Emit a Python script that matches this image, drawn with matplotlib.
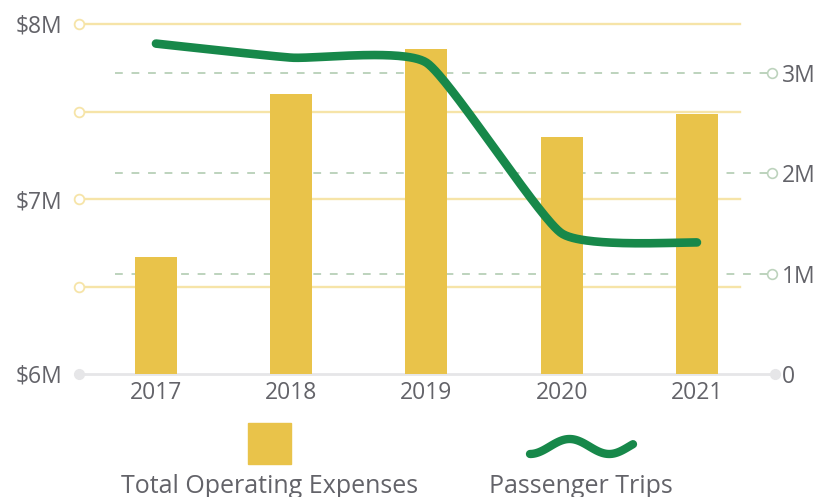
import numpy as np
import matplotlib.pyplot as plt
from matplotlib.patches import Rectangle
from matplotlib.lines import Line2D

# values
years = ['2017', '2018', '2019', '2020', '2021']
expenses = [6.67, 7.60, 7.855, 7.355, 7.485]      # $M, left axis
trips = [3.29, 3.15, 3.10, 1.40, 1.31]            # millions, right axis

left_ticks = [6, 7, 8]
left_labels = [r'\$6M', r'\$7M', r'\$8M']
left_grid = [6.5, 7, 7.5, 8]
right_ticks = [0, 1, 2, 3]
right_labels = ['0', '1M', '2M', '3M']

BAR = '#E9C34A'
GREEN = '#17884A'
YGRID = '#F6E4A8'
GGRID = '#BDD3BD'
BASE = '#E6E6E8'
TEXT = '#636369'

plt.rcParams['font.family'] = ['Open Sans', 'DejaVu Sans']
plt.rcParams['font.weight'] = 'medium'

W, H = 829, 497
fig = plt.figure(figsize=(W / 100, H / 100), dpi=100)
ax = fig.add_axes([79 / W, (H - 374) / H, (775 - 79) / W, (374 - 24) / H])
ax2 = ax.twinx()

x = np.arange(len(years))
ax.set_xlim(-0.569, 4.577)
ax.set_ylim(6, 8)
ax2.set_ylim(0, 3.485)

for a in (ax, ax2):
    for s in a.spines.values():
        s.set_visible(False)

# yellow gridlines for the left axis
for v in left_grid:
    ax.plot([-0.569, 4.318], [v, v], color=YGRID, lw=1.7, zorder=1, clip_on=False)
    ax.plot([-0.569], [v], marker='o', ms=7, mfc='white', mec=YGRID, mew=1.3,
            zorder=2, clip_on=False)

# dashed green gridlines for the right axis (drawn in ax so bars cover them)
for v in right_ticks[1:]:
    ax.plot([-0.303, 4.555], [v, v], color=GGRID, lw=1.4, ls=(0, (4, 4.5)),
            transform=ax2.transData, zorder=1, clip_on=False)
    ax.plot([4.555], [v], marker='o', ms=7, mfc='white', mec=GGRID, mew=1.2,
            transform=ax2.transData, zorder=2, clip_on=False)

# baseline
ax.plot([-0.569, 4.577], [6, 6], color=BASE, lw=2, zorder=1, clip_on=False)
ax.plot([-0.569, 4.577], [6, 6], ls='none', marker='o', ms=7, color=BASE,
        zorder=2, clip_on=False)

ax.bar(x, np.array(expenses) - 6, bottom=6, width=0.31, color=BAR, zorder=3)

# smooth line through the points (cardinal spline, tension 0.5)
pts = np.column_stack([x, trips]).astype(float)
ext = np.vstack([pts[0], pts, pts[-1]])
k = (1 - 0.5) / 6
t = np.linspace(0, 1, 60)[:, None]
curve = []
for i in range(1, len(ext) - 2):
    P0, P1, P2, P3 = ext[i - 1], ext[i], ext[i + 1], ext[i + 2]
    B1 = P1 + k * (P2 - P0)
    B2 = P2 - k * (P3 - P1)
    curve.append((1 - t) ** 3 * P1 + 3 * (1 - t) ** 2 * t * B1
                 + 3 * (1 - t) * t ** 2 * B2 + t ** 3 * P2)
curve = np.vstack(curve)
ax.plot(curve[:, 0], curve[:, 1], color=GREEN, lw=6.2, solid_capstyle='round',
        transform=ax2.transData, zorder=4, clip_on=False)

# ticks
ax.set_xticks(x, years)
ax.set_yticks(left_ticks, left_labels)
ax2.set_yticks(right_ticks, right_labels)
ax.tick_params(axis='x', length=0, pad=5, labelsize=16.5, labelcolor=TEXT)
ax.tick_params(axis='y', length=0, pad=12, labelsize=16.5, labelcolor=TEXT)
ax2.tick_params(axis='y', length=0, pad=5, labelsize=16.5, labelcolor=TEXT)

# legend
fig.patches.append(Rectangle((248 / W, (H - 464) / H), 43 / W, 41 / H,
                             transform=fig.transFigure, color=BAR))
fig.text(270 / W, (H - 493) / H, 'Total Operating Expenses', ha='center',
         va='baseline', fontsize=18, color=TEXT)
sx = np.linspace(0, 1, 80)
sq_x = 530 + 103 * sx
sq_y = 446.5 + 7.5 * np.cos(2 * np.pi * 1.3 * sx)
fig.lines.append(Line2D(sq_x / W, (H - sq_y) / H, transform=fig.transFigure,
                        color=GREEN, lw=6, solid_capstyle='round'))
fig.text(581 / W, (H - 493) / H, 'Passenger Trips', ha='center',
         va='baseline', fontsize=18, color=TEXT)

fig.savefig('out.png', dpi=100)
